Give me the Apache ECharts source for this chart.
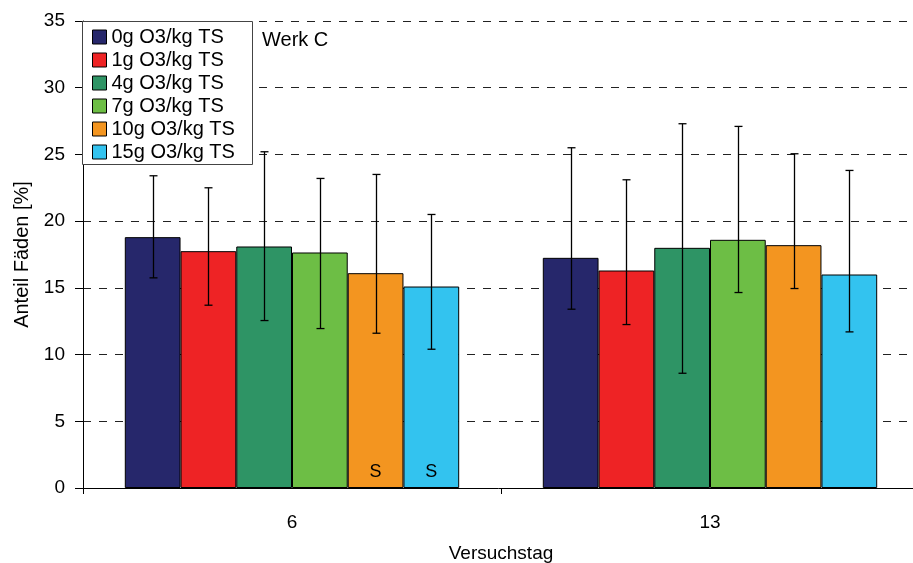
<!DOCTYPE html>
<html>
<head>
<meta charset="utf-8">
<script src="https://cdn.jsdelivr.net/npm/echarts@6/dist/echarts.min.js"></script>
<style>
  html, body { margin: 0; padding: 0; background: #fff; }
  #chart { width: 913px; height: 563px; }
</style>
</head>
<body>
<div id="chart"></div>
<script>
// Test days (categories) and ozone doses (series)
const categories = ['6', '13'];
const doses = ['0g O3/kg TS', '1g O3/kg TS', '4g O3/kg TS', '7g O3/kg TS', '10g O3/kg TS', '15g O3/kg TS'];
const colors = ['#26276B', '#EE2325', '#2E9465', '#6DBE45', '#F39520', '#33C3EF'];

// Mean share of filaments [%] per dose, one array per test day
const meanDay6  = [18.8, 17.75, 18.1, 17.65, 16.1, 15.1];
const meanDay13 = [17.25, 16.3, 18.0, 18.6, 18.2, 16.0];

// Error bar ends (upper / lower) per dose
const upperDay6  = [23.4, 22.5, 25.2, 23.2, 23.5, 20.5];
const lowerDay6  = [15.75, 13.7, 12.55, 11.95, 11.6, 10.4];
const upperDay13 = [25.5, 23.1, 27.3, 27.1, 25.05, 23.8];
const lowerDay13 = [13.4, 12.25, 8.6, 14.65, 14.95, 11.7];

// Significance markers written at the foot of the bars
const sigDay6  = ['', '', '', '', 'S', 'S'];
const sigDay13 = ['', '', '', '', '', ''];

const yTicks = [0, 5, 10, 15, 20, 25, 30, 35];

const means = [meanDay6, meanDay13];
const uppers = [upperDay6, upperDay13];
const lowers = [lowerDay6, lowerDay13];
const sigs = [sigDay6, sigDay13];

const FONT = 'Liberation Sans, Arial, sans-serif';
const CAT_GAP = 0.2;   // barCategoryGap 20 %
const N = doses.length;

const barSeries = doses.map((d, i) => ({
  type: 'bar',
  name: d,
  data: categories.map((c, k) => means[k][i]),
  barGap: '0%',
  barCategoryGap: '20%',
  itemStyle: { color: colors[i], borderColor: '#000', borderWidth: 1 },
  label: {
    show: true,
    position: 'insideBottom',
    distance: 7,
    fontFamily: FONT,
    fontSize: 18,
    color: '#000',
    formatter: p => sigs[p.dataIndex][i]
  },
  emphasis: { disabled: true },
  z: 2
}));

const errSeries = doses.map((d, i) => ({
  type: 'custom',
  name: 'err' + i,
  data: categories.map((c, k) => [k, lowers[k][i], uppers[k][i]]),
  encode: { x: 0, y: [1, 2] },
  z: 5,
  silent: true,
  renderItem: (params, api) => {
    const k = api.value(0);
    const lo = api.coord([k, api.value(1)]);
    const hi = api.coord([k, api.value(2)]);
    const band = api.size([1, 0])[0];
    const bw = band * (1 - CAT_GAP) / N;
    const cx = Math.round(lo[0] + (i - (N - 1) / 2) * bw) + 0.5;
    const cap = 4;
    const style = { stroke: '#000', lineWidth: 1.3 };
    return {
      type: 'group',
      children: [
        { type: 'line', shape: { x1: cx, y1: lo[1], x2: cx, y2: hi[1] }, style },
        { type: 'line', shape: { x1: cx - cap, y1: hi[1], x2: cx + cap, y2: hi[1] }, style },
        { type: 'line', shape: { x1: cx - cap, y1: lo[1], x2: cx + cap, y2: lo[1] }, style }
      ]
    };
  }
}));

const chart = echarts.init(document.getElementById('chart'), null, { renderer: 'canvas' });
chart.setOption({
  animation: false,
  backgroundColor: '#fff',
  textStyle: { fontFamily: FONT },
  // plot area runs slightly past the right edge of the canvas
  grid: { left: 83, top: 21, width: 836, height: 467, containLabel: false, outerBoundsMode: 'none' },
  xAxis: {
    type: 'category',
    data: categories,
    name: 'Versuchstag',
    nameLocation: 'middle',
    nameGap: 56,
    nameTextStyle: { fontFamily: FONT, fontSize: 19, color: '#000' },
    axisLine: { lineStyle: { color: '#000', width: 1 } },
    axisTick: { show: true, length: 6, lineStyle: { color: '#000' } },
    axisLabel: { fontFamily: FONT, fontSize: 19, color: '#000', margin: 25 },
    splitLine: { show: false }
  },
  yAxis: {
    type: 'value',
    min: yTicks[0],
    max: yTicks[yTicks.length - 1],
    interval: 5,
    name: 'Anteil Fäden [%]',
    nameLocation: 'middle',
    nameGap: 51,
    nameTextStyle: { fontFamily: FONT, fontSize: 20, color: '#000' },
    axisLine: { show: true, lineStyle: { color: '#000', width: 1 } },
    axisTick: { show: true, length: 8, lineStyle: { color: '#000' } },
    axisLabel: { fontFamily: FONT, fontSize: 19, color: '#000', margin: 18 },
    splitLine: { show: true, lineStyle: { color: '#222', width: 1, type: [8, 8] } }
  },
  legend: {
    data: doses,
    orient: 'vertical',
    left: 83,
    top: 21,
    padding: [6, 7, 6, 9],
    itemWidth: 14,
    itemHeight: 14,
    itemGap: 3,
    icon: 'rect',
    itemStyle: { borderColor: '#000', borderWidth: 1 },
    textStyle: { fontFamily: FONT, fontSize: 20, color: '#000', lineHeight: 19 },
    selectedMode: false,
    z: 20
  },
  graphic: [
    {
      type: 'rect',
      shape: { x: 82.5, y: 21.5, width: 170, height: 143 },
      style: { fill: '#fff', stroke: '#444', lineWidth: 1 },
      z: 15
    },
    {
      type: 'text',
      left: 262,
      top: 30,
      style: { text: 'Werk C', fontFamily: FONT, fontSize: 20, fill: '#000' },
      z: 20
    }
  ],
  series: [...barSeries, ...errSeries]
});
</script>
</body>
</html>
